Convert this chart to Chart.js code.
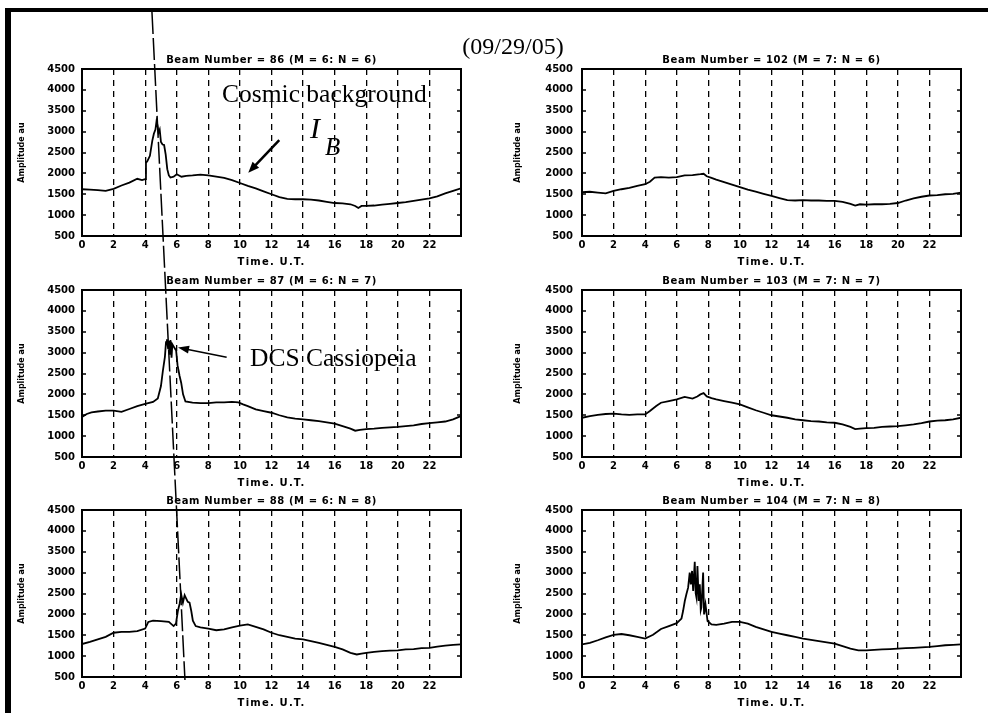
<!DOCTYPE html>
<html><head><meta charset="utf-8">
<script src="https://cdn.jsdelivr.net/npm/chart.js@4.4.0/dist/chart.umd.min.js"></script>
<style>
html,body{margin:0;padding:0;background:#fff;}
#stage{position:relative;width:988px;height:713px;overflow:hidden;background:#fff;}
#stage canvas{position:absolute;}
</style></head><body><div id="stage"></div>
<script>
// ---------- data ----------
const xTickValues = [0,2,4,6,8,10,12,14,16,18,20,22];
const xTickLabels = ['0','2','4','6','8','10','12','14','16','18','20','22'];
const yTickValues = [500,1000,1500,2000,2500,3000,3500,4000,4500];
const yTickLabels = ['500','1000','1500','2000','2500','3000','3500','4000','4500'];
const chartTitle = '(09/29/05)';
const beamTitles = [
  'Beam Number = 86 (M = 6: N = 6)',
  'Beam Number = 102 (M = 7: N = 6)',
  'Beam Number = 87 (M = 6: N = 7)',
  'Beam Number = 103 (M = 7: N = 7)',
  'Beam Number = 88 (M = 6: N = 8)',
  'Beam Number = 104 (M = 7: N = 8)'
];
const xAxisTitle = 'Time. U.T.';
const yAxisTitle = 'Amplitude au';

const t86 = [0,0.5,1,1.5,2,2.5,3,3.5,3.8,4.0,4.05,4.15,4.3,4.45,4.55,4.65,4.72,4.78,4.85,4.92,5.0,5.1,5.2,5.3,5.4,5.5,5.6,5.8,6.0,6.3,6.6,7,7.5,8,8.5,9,9.5,10,10.5,11,11.5,12,12.5,13,13.5,14,14.5,15,15.5,16,16.5,17,17.3,17.5,17.7,18,18.5,19,19.5,20,20.5,21,21.5,22,22.5,23,23.5,24];
const v86 = [1620,1610,1600,1580,1630,1710,1780,1870,1840,1860,2250,2300,2420,2780,2950,3050,3250,3150,2980,3050,2750,2690,2680,2450,2100,1950,1900,1920,1980,1920,1940,1950,1970,1950,1920,1890,1840,1770,1700,1640,1570,1500,1430,1390,1380,1380,1370,1350,1320,1290,1280,1260,1220,1170,1220,1220,1230,1250,1270,1290,1310,1340,1370,1400,1450,1520,1580,1640];

const t102 = [0,0.5,1,1.5,2,2.5,3,3.5,4,4.3,4.6,5,5.5,6,6.5,7,7.5,7.7,7.9,8.2,8.5,9,9.5,10,10.5,11,11.5,12,12.5,13,13.5,14,14.5,15,15.5,16,16.5,17,17.3,17.6,18,18.5,19,19.5,20,20.5,21,21.5,22,22.5,23,23.5,24];
const v102 = [1550,1560,1540,1520,1580,1620,1650,1700,1740,1800,1900,1910,1900,1910,1950,1960,1980,1990,1930,1890,1850,1790,1730,1670,1610,1560,1510,1460,1410,1360,1350,1360,1350,1350,1340,1340,1320,1270,1230,1260,1250,1260,1260,1270,1290,1350,1400,1440,1470,1480,1500,1510,1540];

const t87 = [0,0.3,0.6,1,1.5,2,2.5,3,3.5,4,4.5,4.8,5.0,5.12,5.25,5.32,5.38,5.45,5.5,5.55,5.6,5.67,5.72,5.8,5.88,5.96,6.05,6.18,6.28,6.4,6.55,7,7.5,8,8.5,9,9.5,9.9,10.2,10.5,11,11.5,12,12.5,13,13.5,14,14.5,15,15.5,16,16.5,17,17.3,17.6,18,18.5,19,19.5,20,20.5,21,21.5,22,22.5,23,23.5,23.8,24];
const v87 = [1460,1530,1570,1590,1610,1610,1580,1650,1720,1770,1820,1900,2200,2560,2900,3250,3320,3100,3280,2950,3300,2880,3200,3150,3100,3050,2700,2440,2280,2000,1830,1800,1790,1790,1810,1810,1820,1810,1760,1720,1640,1600,1560,1500,1450,1420,1400,1380,1360,1330,1300,1240,1180,1130,1150,1170,1180,1200,1210,1220,1240,1260,1290,1310,1330,1350,1400,1450,1480];

const t103 = [0,0.5,1,1.5,2,2.5,3,3.5,4,4.3,4.7,5,5.5,6,6.5,7,7.3,7.5,7.7,7.9,8.2,8.5,9,9.5,10,10.5,11,11.5,12,12.5,13,13.5,14,14.5,15,15.5,16,16.5,17,17.3,17.6,18,18.5,19,19.5,20,20.5,21,21.5,22,22.5,23,23.5,24];
const v103 = [1440,1480,1510,1530,1540,1520,1510,1520,1520,1600,1720,1800,1840,1880,1940,1900,1950,2000,2030,1950,1910,1880,1840,1800,1760,1690,1620,1560,1500,1470,1440,1400,1380,1360,1350,1330,1320,1280,1220,1170,1180,1190,1200,1220,1230,1240,1260,1280,1310,1350,1370,1380,1400,1440];

const t88 = [0,0.5,1,1.5,2,2.5,3,3.5,4,4.2,4.5,5,5.5,5.8,5.95,6.07,6.18,6.28,6.39,6.5,6.6,6.7,6.81,6.92,7.02,7.2,7.5,8,8.5,9,9.5,10,10.5,11,11.5,12,12.5,13,13.5,14,14.5,15,15.5,16,16.5,17,17.4,17.7,18,18.5,19,19.5,20,20.5,21,21.5,22,22.5,23,23.5,24];
const v88 = [1290,1340,1400,1460,1560,1580,1580,1600,1660,1820,1850,1840,1820,1720,1780,2080,2250,2480,2280,2460,2380,2300,2280,2080,1850,1720,1690,1660,1620,1640,1690,1730,1760,1700,1640,1560,1500,1460,1420,1400,1360,1320,1270,1220,1160,1080,1040,1060,1080,1100,1120,1130,1140,1160,1170,1190,1200,1230,1250,1270,1280];

const t104 = [0,0.5,1,1.5,2,2.5,3,3.5,4,4.5,5,5.5,6,6.3,6.4,6.51,6.61,6.72,6.82,6.89,6.97,7.04,7.14,7.2,7.25,7.31,7.39,7.46,7.52,7.56,7.67,7.73,7.82,7.95,8.2,8.5,9,9.5,10,10.5,11,11.5,12,12.5,13,13.5,14,14.5,15,15.5,16,16.5,17,17.5,18,18.5,19,19.5,20,20.5,21,21.5,22,22.5,23,23.5,24];
const v104 = [1280,1320,1380,1450,1510,1530,1500,1460,1420,1510,1650,1720,1790,1900,2080,2320,2480,2640,3000,2720,3040,2560,3260,2500,2400,3160,2320,2720,2100,2160,3000,2000,2240,1840,1760,1750,1780,1820,1820,1780,1700,1640,1580,1540,1500,1460,1420,1390,1360,1330,1300,1240,1180,1140,1140,1150,1160,1170,1180,1190,1200,1210,1220,1240,1260,1270,1280];

const seriesTimes = [t86, t102, t87, t103, t88, t104];
const seriesValues = [v86, v102, v87, v103, v88, v104];

// ---------- layout (positions & styles) ----------
const PANEL_W = 379, PANEL_H = 167;
const panelPos = [
  {left:82, top:69}, {left:582, top:69},
  {left:82, top:290}, {left:582, top:290},
  {left:82, top:510}, {left:582, top:510}
];
const yTitleGap = [60.5, 64, 60.5, 64, 60.5, 64];
const yTickPad = [7, 9, 7, 9, 7, 9];
const TICK_FONT = {family:'"DejaVu Sans", sans-serif', size:10, weight:'bold'};

const panelDeco = {
  id:'panelDeco',
  afterDatasetsDraw(chart, args, opts) {
    const ctx = chart.ctx, a = chart.chartArea;
    ctx.save();
    ctx.strokeStyle = '#000';
    ctx.lineWidth = 2;
    ctx.strokeRect(a.left, a.top, a.right - a.left, a.bottom - a.top);
    const ys = chart.scales.y;
    ctx.lineWidth = 1.5;
    ys.ticks.forEach(tk => {
      const y = Math.round(ys.getPixelForValue(tk.value));
      ctx.beginPath();
      ctx.moveTo(a.left, y); ctx.lineTo(a.left + 4, y);
      ctx.moveTo(a.right - 4, y); ctx.lineTo(a.right, y);
      ctx.stroke();
    });
    ctx.fillStyle = '#000';
    ctx.textAlign = 'center';
    ctx.textBaseline = 'middle';
    ctx.font = 'bold 10px "DejaVu Sans"';
    ctx.letterSpacing = '0.6px';
    ctx.fillText(opts.title, (a.left + a.right) / 2, a.top - 8.5);
    ctx.letterSpacing = '1.2px';
    ctx.fillText(opts.xTitle, (a.left + a.right) / 2, a.bottom + 26);
    ctx.letterSpacing = '0px';
    ctx.translate(a.left - opts.yGap, (a.top + a.bottom) / 2);
    ctx.rotate(-Math.PI / 2);
    ctx.font = 'bold 8px "DejaVu Sans"';
    ctx.fillText(opts.yTitle, 0, 0);
    ctx.restore();
  }
};

function makeConfig(i) {
  const pts = seriesTimes[i].map((t, k) => ({x: t, y: seriesValues[i][k]}));
  return {
    type: 'line',
    data: {datasets: [{data: pts, borderColor: '#000', borderWidth: 1.8, pointRadius: 0, tension: 0, fill: false}]},
    options: {
      responsive: false, animation: false, devicePixelRatio: 1,
      layout: {padding: {left: 20, right: 6, top: 18, bottom: 0}},
      plugins: {
        legend: {display: false}, tooltip: {enabled: false}, title: {display: false},
        panelDeco: {title: beamTitles[i], xTitle: xAxisTitle, yTitle: yAxisTitle, yGap: yTitleGap[i]}
      },
      scales: {
        x: {
          type: 'linear', min: 0, max: 24,
          afterBuildTicks: s => { s.ticks = xTickValues.map(v => ({value: v})); },
          afterFit: s => { s.height = 40; },
          ticks: {font: TICK_FONT, color: '#000', padding: 3, maxRotation: 0, minRotation: 0, autoSkip: false,
                  callback: (v, idx) => xTickLabels[idx]},
          grid: {color: '#000', lineWidth: 1.3, drawTicks: false},
          border: {display: false, dash: [6, 5]}
        },
        y: {
          type: 'linear', min: 500, max: 4500,
          afterBuildTicks: s => { s.ticks = yTickValues.map(v => ({value: v})); },
          afterFit: s => { s.width = 60; },
          ticks: {font: TICK_FONT, color: '#000', padding: yTickPad[i], callback: (v, idx) => yTickLabels[idx]},
          grid: {display: false, drawTicks: false},
          border: {display: false}
        }
      }
    },
    plugins: [panelDeco]
  };
}

const stage = document.getElementById('stage');
const panels = [];
function sizeCanvas(c, w, h) { c.width = w; c.height = h; c.style.width = w + 'px'; c.style.height = h + 'px'; }
for (let i = 0; i < 6; i++) {
  const c = document.createElement('canvas');
  stage.appendChild(c);
  let W = 475, H = 225;
  sizeCanvas(c, W, H);
  let chart = new Chart(c, makeConfig(i));
  let a = chart.chartArea;
  const dW = Math.round(PANEL_W - (a.right - a.left)), dH = Math.round(PANEL_H - (a.bottom - a.top));
  if (dW !== 0 || dH !== 0) {
    chart.destroy();
    W += dW; H += dH;
    sizeCanvas(c, W, H);
    chart = new Chart(c, makeConfig(i));
    a = chart.chartArea;
  }
  const offX = Math.round(panelPos[i].left - a.left), offY = Math.round(panelPos[i].top - a.top);
  c.style.left = offX + 'px'; c.style.top = offY + 'px';
  panels.push({chart, offX, offY});
}

// ---------- overlay: frame, date, annotations ----------
const ov = document.createElement('canvas');
sizeCanvas(ov, 988, 713);
ov.style.left = '0px'; ov.style.top = '0px'; ov.style.zIndex = 10;
stage.appendChild(ov);
const g = ov.getContext('2d');

function P(panel, t, v) {
  const p = panels[panel];
  return {x: p.offX + p.chart.scales.x.getPixelForValue(t), y: p.offY + p.chart.scales.y.getPixelForValue(v)};
}

// frame
g.fillStyle = '#000';
g.fillRect(5, 8, 983, 4);
g.fillRect(5, 8, 6, 705);

// date title
g.font = '24px "Liberation Serif"';
g.textAlign = 'center'; g.textBaseline = 'alphabetic';
g.fillText(chartTitle, 513, 54);

// texts (anchored in data coordinates of a panel)
const notes = [
  {panel: 0, t: 8.87, v: 3709, text: 'Cosmic background', font: '25.5px "Liberation Serif"'},
  {panel: 0, t: 14.44, v: 2847, text: 'I', font: 'italic 30px "Liberation Serif"'},
  {panel: 0, t: 15.39, v: 2440, text: 'B', font: 'italic 25px "Liberation Serif"'},
  {panel: 2, t: 10.64, v: 2679, text: 'DCS Cassiopeia', font: '25.5px "Liberation Serif"'}
];
g.textAlign = 'left';
notes.forEach(n => { const p = P(n.panel, n.t, n.v); g.font = n.font; g.fillText(n.text, p.x, p.y); });

function arrow(a, b, w, head, hw) {
  const ang = Math.atan2(b.y - a.y, b.x - a.x);
  const bx = b.x - Math.cos(ang) * head * 0.8, by = b.y - Math.sin(ang) * head * 0.8;
  g.strokeStyle = '#000'; g.lineWidth = w; g.setLineDash([]);
  g.beginPath(); g.moveTo(a.x, a.y); g.lineTo(bx, by); g.stroke();
  g.beginPath();
  g.moveTo(b.x, b.y);
  g.lineTo(b.x - Math.cos(ang) * head + Math.sin(ang) * hw, b.y - Math.sin(ang) * head - Math.cos(ang) * hw);
  g.lineTo(b.x - Math.cos(ang) * head - Math.sin(ang) * hw, b.y - Math.sin(ang) * head + Math.cos(ang) * hw);
  g.closePath(); g.fill();
}
arrow(P(0, 12.49, 2799), P(0, 10.53, 2016), 2.5, 11, 4.5);
arrow(P(2, 9.16, 2888), P(2, 6.08, 3123), 1.5, 11, 4);

// slanted dashed line through the source transits
const d1 = P(0, 4.43, 5865), d2 = P(4, 6.52, 428);
g.strokeStyle = '#000'; g.lineWidth = 1.5; g.setLineDash([22, 4]);
g.beginPath(); g.moveTo(d1.x, d1.y); g.lineTo(d2.x, d2.y); g.stroke();
g.setLineDash([]);
</script></body></html>
